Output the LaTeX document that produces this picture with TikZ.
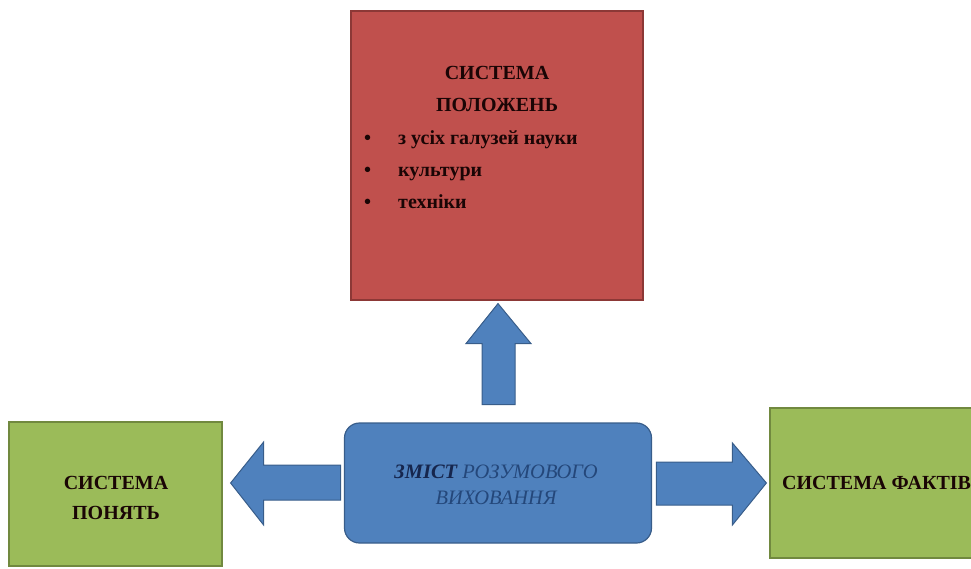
\documentclass[tikz,border=0pt]{standalone}
\usepackage{fontspec}
\setmainfont{Liberation Serif}
\usetikzlibrary{calc}
\definecolor{redfill}{HTML}{C0504D}
\definecolor{redline}{HTML}{8C3836}
\definecolor{greenfill}{HTML}{9BBB59}
\definecolor{greenline}{HTML}{71893F}
\definecolor{bluefill}{HTML}{4F81BD}
\definecolor{blueline}{HTML}{385D8A}
\definecolor{navytext}{HTML}{16264D}
\definecolor{bluetext}{HTML}{24477A}
\definecolor{darktext}{HTML}{1A0505}
\begin{document}
\begin{tikzpicture}[x=1pt,y=-1pt,
  boxbase/.style={draw, line width=1.2pt, inner sep=0pt},
  redbox/.style={boxbase, fill=redfill, draw=redline},
  greenbox/.style={boxbase, fill=greenfill, draw=greenline},
  bluebox/.style={boxbase, fill=bluefill, draw=blueline, rounded corners=15pt},
  blockarrow/.style={fill=bluefill, draw=blueline, line width=1pt, line join=miter},
  boxtext/.style={font=\fontsize{20}{32}\selectfont\bfseries, text=darktext, align=center, inner sep=0pt},
  itemtext/.style={font=\fontsize{20}{32}\selectfont\bfseries, text=darktext, inner sep=0pt, anchor=base west},
  bluetxt/.style={font=\fontsize{20.5}{26}\selectfont\itshape, text=bluetext, align=center, inner sep=0pt}
]
\useasboundingbox (0,0) rectangle (971,569);

% boxes
\node[redbox, minimum width=292pt, minimum height=289pt] (pol) at (497,155.5) {};
\node[bluebox, minimum width=307pt, minimum height=120pt] (zm) at (498,483) {};
\node[greenbox, minimum width=213pt, minimum height=144pt] (lg) at (115.5,494) {};
\node[greenbox, minimum width=230pt, minimum height=150pt] (rg) at (885,483) {};

% texts
\node[boxtext] (polt) at (497,89) {СИСТЕМА\\ПОЛОЖЕНЬ};
\node[itemtext] (b1) at (364,145) {•};
\node[itemtext] (i1) at (398,145) {з усіх галузей науки};
\node[itemtext] (b2) at (364,177) {•};
\node[itemtext] (i2) at (398,177) {культури};
\node[itemtext] (b3) at (364,209) {•};
\node[itemtext] (i3) at (398,209) {техніки};

\node[bluetxt] (zmt) at (496,485) {{\bfseries\color{navytext}ЗМІСТ} РОЗУМОВОГО\\ВИХОВАННЯ};
\node[boxtext, font=\fontsize{20}{30}\selectfont\bfseries] (lgt) at (116,498) {СИСТЕМА\\ПОНЯТЬ};
\node[itemtext] (rgt) at (782,489) {СИСТЕМА ФАКТІВ};

% block arrows
\draw[blockarrow] ($(pol.south)+(1,3)$) -- ++(33,40) -- ++(-16,0) -- ++(0,61)
  -- ++(-33,0) -- ++(0,-61) -- ++(-16,0) -- cycle;
\draw[blockarrow] ($(lg.east |- zm.west)+(8,0)$) -- ++(33,-41) -- ++(0,23) -- ++(77,0)
  -- ++(0,35) -- ++(-77,0) -- ++(0,25) -- cycle;
\draw[blockarrow] ($(rg.west |- zm.east)+(-3,0)$) -- ++(-34,-40) -- ++(0,19) -- ++(-76,0)
  -- ++(0,43) -- ++(76,0) -- ++(0,20) -- cycle;
\end{tikzpicture}
\end{document}
